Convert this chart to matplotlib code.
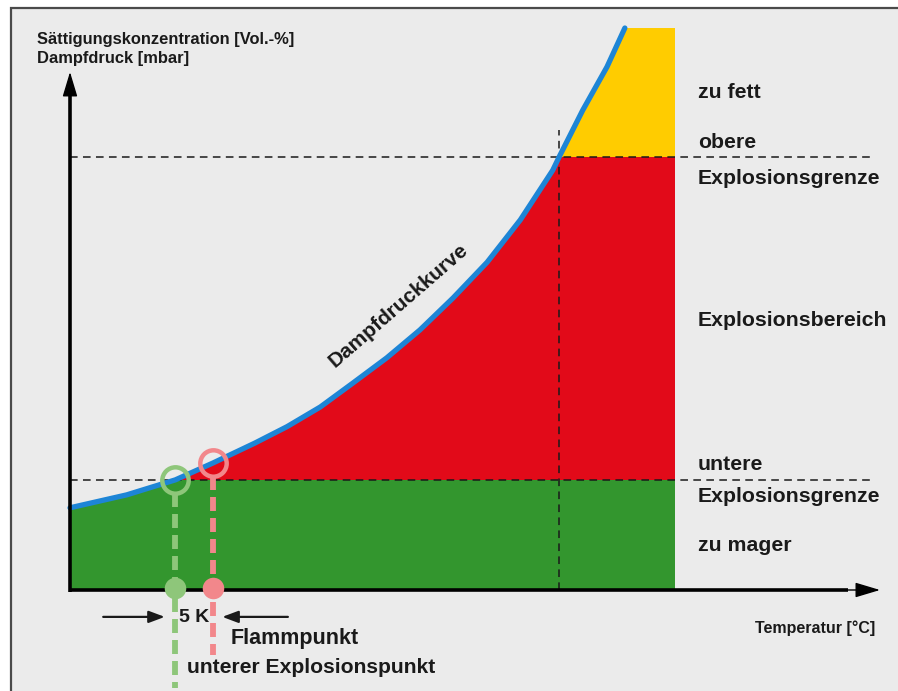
import matplotlib.pyplot as plt
import numpy as np
from matplotlib.patches import Polygon, Rectangle

plt.rcParams['font.family'] = ['Liberation Sans', 'DejaVu Sans']
plt.rcParams['font.weight'] = 'bold'

# vapour pressure curve (arbitrary units)
temperature = [0, 7.0, 13.0, 17.7, 18.9, 22.8, 26.8, 30.9, 34.9, 39.1, 43.2,
               47.3, 51.5, 55.6, 59.6, 60.4, 63.3, 66.3, 68.5]
pressure = [15.9, 18.4, 21.3, 24.6, 25.5, 28.4, 31.6, 35.4, 40.0, 44.9, 50.3,
            56.5, 63.4, 71.6, 81.2, 83.8, 92.8, 101.2, 108.7]

lower_limit = 21.3      # untere Explosionsgrenze
upper_limit = 83.8      # obere Explosionsgrenze
t_upper = 60.4          # temperature where curve meets upper limit
t_lep = 13.0            # unterer Explosionspunkt
t_flash = 17.7          # Flammpunkt
p_flash = 24.6

region_labels = ["zu fett", "obere", "Explosionsgrenze", "Explosionsbereich",
                 "untere", "Explosionsgrenze", "zu mager"]
region_label_y = [96.3, 86.6, 79.6, 52.2, 24.3, 18.0, 8.7]

GREEN = "#33962e"
RED = "#e20a19"
YELLOW = "#ffcc00"
BLUE = "#1d85d6"
PALE_GREEN = "#8ec67a"
PINK = "#f2878b"
BG = "#ebebeb"
INK = "#1a1a1a"

fig = plt.figure(figsize=(8.98, 6.91), dpi=100, facecolor="white")
ax = fig.add_axes([0, 0, 1, 1])
ax.set_facecolor("none")
ax.set_xlim(-70 / 8.1, 828 / 8.1)
ax.set_ylim(-101 / 5.17, 590 / 5.17)
ax.axis("off")

# page frame
ax.add_patch(Rectangle((11 / 898, -0.1), 2, (691 - 8) / 691 + 0.1,
                       transform=fig.transFigure, facecolor=BG,
                       edgecolor="#4a4a4a", linewidth=1.6, zorder=0, clip_on=False))

x_right = 74.7
p_top = pressure[-1]

# area under the curve, used to clip the coloured bands
under = Polygon(np.c_[np.r_[temperature, x_right, x_right, 0],
                      np.r_[pressure, p_top, 0, 0]],
                closed=True, transform=ax.transData, facecolor="none", edgecolor="none")
ax.add_patch(under)
for lo, hi, col in [(0, lower_limit, GREEN), (lower_limit, upper_limit, RED),
                    (upper_limit, p_top, YELLOW)]:
    band = ax.fill_between([0, x_right], lo, hi, color=col, linewidth=0, zorder=1)
    band.set_clip_path(under)

# dashed reference lines
dash = (0, (5, 3.5))
ax.plot([0, 99.4], [lower_limit, lower_limit], ls=dash, color=INK, lw=1.1, zorder=3)
ax.plot([0, 99.4], [upper_limit, upper_limit], ls=dash, color=INK, lw=1.1, zorder=3)
ax.plot([t_upper, t_upper], [0, 89.0], ls=dash, color=INK, lw=1.1, zorder=3)

# vapour pressure curve
ax.plot(temperature, pressure, color=BLUE, lw=3.8, solid_capstyle="round",
        solid_joinstyle="round", zorder=4)

# axes arrows
ax.plot([0, 0], [-0.35, 96], color="black", lw=2.6, solid_capstyle="butt", zorder=5)
ax.plot([0, 96], [0, 0], color="black", lw=2.6, solid_capstyle="butt", zorder=5)
head = dict(arrowstyle="-|>,head_length=1.1,head_width=0.33",
            lw=1, color="black", shrinkA=0, shrinkB=0, mutation_scale=14)
ax.annotate("", xy=(0, 100.2), xytext=(0, 95), arrowprops=head, zorder=5)
ax.annotate("", xy=(100, 0), xytext=(95, 0), arrowprops=head, zorder=5)

# flash point and lower explosion point markers
ax.plot([t_lep, t_lep], [lower_limit - 2.6, -18.9], ls=(0, (2.4, 1.2)),
        color=PALE_GREEN, lw=4.2, zorder=6)
ax.plot([t_flash, t_flash], [p_flash - 2.6, -12.6], ls=(0, (2.4, 1.2)),
        color=PINK, lw=4.2, zorder=6)
ax.plot([t_lep], [lower_limit], "o", ms=19, mfc="none", mec=PALE_GREEN, mew=3.2, zorder=7)
ax.plot([t_flash], [p_flash], "o", ms=19, mfc="none", mec=PINK, mew=3.2, zorder=7)
ax.plot([t_lep], [0.3], "o", ms=15.5, color=PALE_GREEN, mew=0, zorder=7)
ax.plot([t_flash], [0.3], "o", ms=15.5, color=PINK, mew=0, zorder=7)

# 5 K arrows
small = dict(arrowstyle="-|>,head_length=0.8,head_width=0.3",
             lw=1.6, color=INK, shrinkA=0, shrinkB=0, mutation_scale=12)
ax.annotate("", xy=(t_lep - 1.3, -5.2), xytext=(4.1, -5.2), arrowprops=small)
ax.annotate("", xy=(t_flash + 1.1, -5.2), xytext=(26.9, -5.2), arrowprops=small)
ax.text((t_lep + t_flash) / 2, -5.4, "5 K", ha="center", va="center",
        fontsize=14, color=INK, zorder=8)

ax.text(19.8, -9.4, "Flammpunkt", ha="left", va="center", fontsize=15.5, color=INK)
ax.text(14.5, -15.0, "unterer Explosionspunkt", ha="left", va="center",
        fontsize=15.2, color=INK)

# text labels
ax.text(-4.1, 106.4, "Sättigungskonzentration [Vol.-%]", ha="left", va="center",
        fontsize=11.9, color=INK)
ax.text(-4.1, 102.9, "Dampfdruck [mbar]", ha="left", va="center",
        fontsize=11.9, color=INK)
ax.text(99.4, -7.3, "Temperatur [°C]", ha="right", va="center", fontsize=11.5, color=INK)
ax.text(40.5, 55.0, "Dampfdruckkurve", ha="center", va="center", rotation=41,
        fontsize=15, color=INK, rotation_mode="anchor")
for lbl, yy in zip(region_labels, region_label_y):
    ax.text(77.5, yy, lbl, ha="left", va="center", fontsize=15.3, color=INK)

fig.savefig("out.png", dpi=100, facecolor="white")
